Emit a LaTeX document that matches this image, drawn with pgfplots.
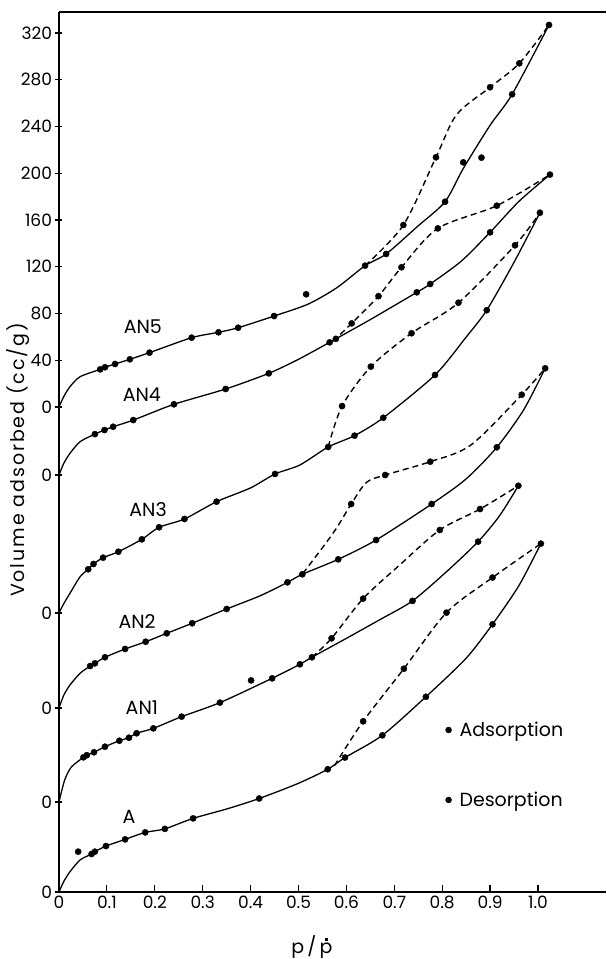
\documentclass[border=0pt]{standalone}
\usepackage{fontspec}
\setmainfont{Poppins}
\usepackage{pgfplots}
\usepackage{pgfplotstable}
\pgfplotsset{compat=1.18}

\newcommand\pdot{\setbox0\hbox{p}\hbox to\wd0{\hss p\hss}\llap{\hbox to\wd0{\hss\raisebox{0.66em}{\rule{3pt}{3pt}}\hss}}}

% m: 0 = point of the drawn curve only, 1 = measured point on the curve
\pgfplotstableread[row sep=\\]{
x v m\\
0 0 0\\ 0.010 9 0\\ 0.023 17.4 0\\ 0.044 27.4 0\\ 0.068 32.5 1\\ 0.075 34.5 1\\
0.098 39.3 1\\ 0.138 45 1\\ 0.180 51 1\\ 0.221 54 1\\ 0.280 63 1\\ 0.350 71 0\\ 0.418 80 1\\
0.500 93 0\\ 0.561 105 1\\ 0.597 115 1\\ 0.675 134 1\\ 0.766 167 1\\ 0.850 200 0\\ 0.905 229 1\\
0.960 262 0\\ 1.006 298 1\\
}\Aads
\pgfplotstableread[row sep=\\]{
x v m\\
0.575 108 0\\ 0.635 146 1\\ 0.720 191 1\\ 0.809 239 1\\ 0.905 269 1\\ 1.006 298 0\\
}\Ades
\pgfplotstableread[row sep=\\]{
x v\\
0.040 34.5\\
}\Aout
\pgfplotstableread[row sep=\\]{
x v m\\
0 0 0\\ 0.012 19 0\\ 0.026 30 0\\ 0.051 38.2 1\\ 0.058 40 1\\ 0.073 42.5 1\\ 0.096 47.3 1\\
0.126 52.4 1\\ 0.146 55 1\\ 0.162 58.8 1\\ 0.197 63 1\\ 0.256 73 1\\ 0.336 85 1\\
0.445 105.8 1\\ 0.503 117.8 1\\ 0.528 123.8 1\\ 0.600 140 0\\ 0.670 156 0\\ 0.738 172 1\\
0.809 197 0\\ 0.875 222.7 1\\ 0.920 245 0\\ 0.959 270.5 1\\
}\Bads
\pgfplotstableread[row sep=\\]{
x v m\\
0.528 123.8 0\\ 0.569 140 1\\ 0.635 174 1\\ 0.712 203 0\\ 0.795 232.7 1\\ 0.879 250.6 1\\ 0.959 270.5 0\\
}\Bdes
\pgfplotstableread[row sep=\\]{
x v\\
0.401 104\\
}\Bout
\pgfplotstableread[row sep=\\]{
x v m\\
0 0 0\\ 0.010 11 0\\ 0.023 19.7 0\\ 0.044 29.7 0\\ 0.065 35.9 1\\ 0.075 38.2 1\\ 0.096 43.4 1\\
0.138 50.5 1\\ 0.181 56.7 1\\ 0.225 63.9 1\\ 0.278 72.5 1\\ 0.350 84.7 1\\ 0.420 96 0\\
0.477 107.5 1\\ 0.508 114.4 1\\ 0.583 127.2 1\\ 0.662 143.7 1\\ 0.778 174.5 1\\ 0.850 196 0\\
0.914 223 1\\ 0.970 255 0\\ 1.015 290.6 1\\
}\Cads
\pgfplotstableread[row sep=\\]{
x v m\\
0.509 115 0\\ 0.573 150 0\\ 0.610 174.5 1\\ 0.642 193 0\\ 0.681 199.3 1\\ 0.775 210.7 1\\
0.860 225 0\\ 0.966 268 1\\ 1.015 290.6 0\\
}\Cdes
\pgfplotstableread[row sep=\\]{
x v m\\
0 0 0\\ 0.010 8 0\\ 0.023 16.9 0\\ 0.044 31 0\\ 0.061 37.4 1\\ 0.072 41.9 1\\ 0.092 47.3 1\\
0.124 52.4 1\\ 0.173 63 1\\ 0.209 73.3 1\\ 0.262 80.4 1\\ 0.329 95.2 1\\ 0.400 107 0\\
0.451 118.9 1\\ 0.503 126.6 0\\ 0.562 142 1\\ 0.617 151.7 1\\ 0.677 167 1\\ 0.785 203.6 1\\
0.850 236 0\\ 0.893 259 1\\ 0.950 300 0\\ 1.004 342.4 1\\
}\Dads
\pgfplotstableread[row sep=\\]{
x v m\\
0.562 142 0\\ 0.591 177 1\\ 0.651 210.7 1\\ 0.736 239.3 1\\ 0.834 265.4 1\\ 0.952 314.5 1\\ 1.004 342.4 0\\
}\Ddes
\pgfplotstableread[row sep=\\]{
x v m\\
0 0 0\\ 0.010 10 0\\ 0.023 18.6 0\\ 0.044 28.5 0\\ 0.075 35 1\\ 0.095 38.5 1\\ 0.113 41.3 1\\
0.155 47 1\\ 0.240 60.5 1\\ 0.348 73.6 1\\ 0.438 87 1\\ 0.500 99 0\\ 0.565 113.5 1\\
0.578 116.5 1\\ 0.650 133 0\\ 0.747 156.3 1\\ 0.775 163.4 1\\ 0.840 183 0\\ 0.900 207.6 1\\
0.960 234 0\\ 1.025 257 1\\
}\Eads
\pgfplotstableread[row sep=\\]{
x v m\\
0.572 114.5 0\\ 0.611 129.7 1\\ 0.667 153 1\\ 0.715 177.7 1\\ 0.791 211 1\\ 0.914 230.4 1\\ 1.025 257 0\\
}\Edes
\pgfplotstableread[row sep=\\]{
x v m\\
0 0 0\\ 0.010 9 0\\ 0.023 17.4 0\\ 0.044 25.9 0\\ 0.086 32.2 1\\ 0.096 34 1\\ 0.117 36.8 1\\
0.148 40.8 1\\ 0.189 46.5 1\\ 0.277 59.3 1\\ 0.333 63.9 1\\ 0.374 67.8 1\\ 0.449 77.8 1\\
0.520 88 0\\ 0.580 102 0\\ 0.639 120.9 1\\ 0.683 130.9 1\\ 0.750 155 0\\
0.806 175.6 1\\ 0.844 204 0\\ 0.900 241 0\\ 0.946 267.5 1\\ 1.023 326.8 1\\
}\Fads
\pgfplotstableread[row sep=\\]{
x v m\\
0.639 120.9 0\\ 0.719 155.7 1\\ 0.787 213.6 1\\ 0.830 250 0\\ 0.900 273.5 1\\ 0.961 294 1\\ 1.023 326.8 0\\
}\Fdes
\pgfplotstableread[row sep=\\]{
x v\\
0.516 96.4\\ 0.844 209.3\\ 0.882 213.3\\
}\Fout

\pgfplotsset{
  adsline/.style={black, line width=1.3pt, smooth, tension=0.45, no marks, forget plot},
  desline/.style={black, line width=1.4pt, dash pattern=on 6pt off 4pt, smooth, tension=0.5, no marks, forget plot},
  pts/.style={black, only marks, mark=*, mark size=3.1pt, restrict expr to domain={\thisrow{m}}{1:1}},
  outpts/.style={black, only marks, mark=*, mark size=3.1pt, forget plot},
}

\begin{document}
\begin{tikzpicture}
\path[use as bounding box] (-59pt,-67pt) rectangle (547pt,892pt);
\begin{axis}[
  at={(0pt,0pt)}, anchor=south west,
  scale only axis, width=547pt, height=880pt,
  xmin=0, xmax=1.142, ymin=0, ymax=752.8,
  axis x line=box, axis y line*=left,
  every non boxed y axis/.style={},
  y axis line style={-},
  xtick pos=bottom,
  xtick align=inside, ytick align=center,
  axis line style={line width=1.6pt, black},
  major tick style={line width=1.2pt, black},
  major tick length=7pt,
  xtick={0,0.1,0.2,0.3,0.4,0.5,0.6,0.7,0.8,0.9,1.0},
  xticklabels={0,0.1,0.2,0.3,0.4,0.5,0.6,0.7,0.8,0.9,1.0},
  ytick={0,77.0,157.4,238.7,356.7,414.9,454.9,494.9,534.9,574.9,614.9,654.9,694.9,734.9},
  yticklabels={0,0,0,0,0,0,40,80,120,160,200,240,280,320},
  /pgf/number format/assume math mode=true,
  tick label style={font=\fontsize{17}{20}\selectfont},
  xlabel={p\,/\,\pdot},
  xlabel style={at={(axis description cs:0.4625,-0.0625)}, anchor=center, font=\fontsize{19}{22}\selectfont},
  ylabel={Volume adsorbed (cc/g)},
  ylabel style={at={(axis description cs:-0.075,0.491)}, anchor=center,
    font=\fontsize{19}{22}\selectfont\addfontfeatures{LetterSpace=10}},
  clip=false,
  legend style={at={(axis cs:0.800,149)}, anchor=north west, draw=none, fill=none,
    font=\fontsize{19}{22}\selectfont, row sep=50pt},
  legend cell align=left,
  legend image code/.code={\fill (0pt,0pt) circle (3pt); \path[draw=none,fill=none] (-3pt,-1pt) rectangle (9pt,1pt);},
]
% A (offset 0)
\addplot[adsline] table[x=x, y expr=\thisrow{v}+0] {\Aads};
\addplot[desline] table[x=x, y expr=\thisrow{v}+0] {\Ades};
\addplot[pts] table[x=x, y expr=\thisrow{v}+0] {\Aads};
\addlegendentry{Adsorption}
\addplot[pts] table[x=x, y expr=\thisrow{v}+0] {\Ades};
\addlegendentry{Desorption}
\addplot[outpts] table[x=x, y expr=\thisrow{v}+0] {\Aout};
% AN1 (offset 77.0)
\addplot[adsline] table[x=x, y expr=\thisrow{v}+77.0] {\Bads};
\addplot[desline] table[x=x, y expr=\thisrow{v}+77.0] {\Bdes};
\addplot[pts, forget plot] table[x=x, y expr=\thisrow{v}+77.0] {\Bads};
\addplot[pts, forget plot] table[x=x, y expr=\thisrow{v}+77.0] {\Bdes};
\addplot[outpts] table[x=x, y expr=\thisrow{v}+77.0] {\Bout};
% AN2 (offset 157.4)
\addplot[adsline] table[x=x, y expr=\thisrow{v}+157.4] {\Cads};
\addplot[desline] table[x=x, y expr=\thisrow{v}+157.4] {\Cdes};
\addplot[pts, forget plot] table[x=x, y expr=\thisrow{v}+157.4] {\Cads};
\addplot[pts, forget plot] table[x=x, y expr=\thisrow{v}+157.4] {\Cdes};
% AN3 (offset 238.7)
\addplot[adsline] table[x=x, y expr=\thisrow{v}+238.7] {\Dads};
\addplot[desline] table[x=x, y expr=\thisrow{v}+238.7] {\Ddes};
\addplot[pts, forget plot] table[x=x, y expr=\thisrow{v}+238.7] {\Dads};
\addplot[pts, forget plot] table[x=x, y expr=\thisrow{v}+238.7] {\Ddes};
% AN4 (offset 356.7)
\addplot[adsline] table[x=x, y expr=\thisrow{v}+356.7] {\Eads};
\addplot[desline] table[x=x, y expr=\thisrow{v}+356.7] {\Edes};
\addplot[pts, forget plot] table[x=x, y expr=\thisrow{v}+356.7] {\Eads};
\addplot[pts, forget plot] table[x=x, y expr=\thisrow{v}+356.7] {\Edes};
% AN5 (offset 414.9)
\addplot[adsline] table[x=x, y expr=\thisrow{v}+414.9] {\Fads};
\addplot[desline] table[x=x, y expr=\thisrow{v}+414.9] {\Fdes};
\addplot[pts, forget plot] table[x=x, y expr=\thisrow{v}+414.9] {\Fads};
\addplot[pts, forget plot] table[x=x, y expr=\thisrow{v}+414.9] {\Fdes};
\addplot[outpts] table[x=x, y expr=\thisrow{v}+414.9] {\Fout};

\node[font=\fontsize{19}{22}\selectfont] at (axis cs:0.175,483.3) {AN5};
\node[font=\fontsize{19}{22}\selectfont] at (axis cs:0.173,425.2) {AN4};
\node[font=\fontsize{19}{22}\selectfont] at (axis cs:0.186,326.8) {AN3};
\node[font=\fontsize{19}{22}\selectfont] at (axis cs:0.163,231.0) {AN2};
\node[font=\fontsize{19}{22}\selectfont] at (axis cs:0.173,157.4) {AN1};
\node[font=\fontsize{19}{22}\selectfont] at (axis cs:0.146,64.2) {A};
\end{axis}
\end{tikzpicture}
\end{document}
